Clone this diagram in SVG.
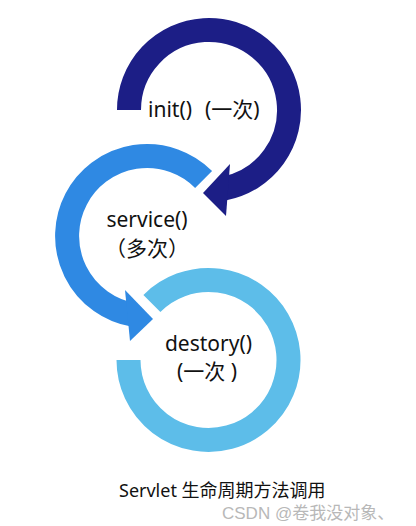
<svg xmlns="http://www.w3.org/2000/svg" width="416" height="526" viewBox="0 0 416 526">
  <style>
    .band { fill: none; stroke-width: 24; stroke-linecap: butt; }
    .lbl { font-family: "Noto Sans", "Noto Sans CJK SC", sans-serif; font-size: 21px; fill: #111; }
    .cap { font-family: "Noto Sans", "Noto Sans CJK SC", sans-serif; font-size: 18px; fill: #111; }
    .wm { font-family: "Liberation Sans", "Noto Sans CJK SC", sans-serif; font-size: 17px; fill: #b8b8b8; }
  </style>
  <rect width="416" height="526" fill="#ffffff"/>
  <g id="destory">
    <path class="band" stroke="#5dbde9" d="M 128.5 360 A 80 80 0 1 0 151.9 303.4"/>
    <text class="lbl" x="208.5" y="351" text-anchor="middle">destory()</text>
    <text class="lbl" x="207" y="379" text-anchor="middle">(一次 )</text>
  </g>
  <g id="service">
    <path class="band" stroke="#2f89e3" d="M 203.6 179.4 A 80 80 0 1 0 133.1 314.8"/>
    <polygon fill="#2f89e3" points="125,290 153,319 130,341"/>
    <text class="lbl" x="147" y="227" text-anchor="middle">service()</text>
    <text class="lbl" x="147" y="256" text-anchor="middle">（多次）</text>
  </g>
  <g id="init">
    <path class="band" stroke="#1c1e86" d="M 129 110 A 80 80 0 1 1 224.3 188.5"/>
    <polygon fill="#1c1e86" points="230,164 203,193 226,216"/>
    <text class="lbl" y="117"><tspan x="148">init()</tspan><tspan x="205">(一次)</tspan></text>
  </g>
  <g id="connectors"></g>
  <text class="cap" x="119" y="497">Servlet 生命周期方法调用</text>
  <text class="wm" x="222" y="519">CSDN @卷我没对象、</text>
</svg>
